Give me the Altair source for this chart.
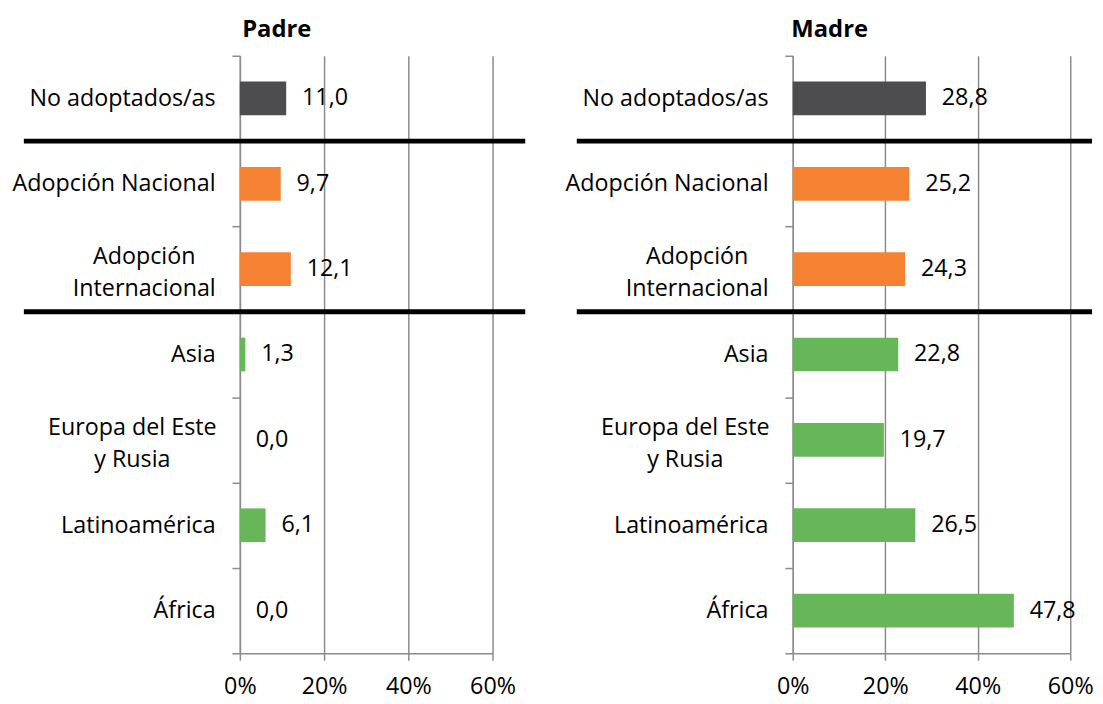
import altair as alt
import pandas as pd

categories = ["No adoptados/as", "Adopción Nacional", "Adopción Internacional",
              "Asia", "Europa del Este y Rusia", "Latinoamérica", "África"]
groups = ["No adoptados", "Adopción", "Adopción",
          "Origen", "Origen", "Origen", "Origen"]
padre = [11.0, 9.7, 12.1, 1.3, 0.0, 6.1, 0.0]
madre = [28.8, 25.2, 24.3, 22.8, 19.7, 26.5, 47.8]
separators = ["No adoptados/as", "Adopción Internacional"]
x_ticks = [0, 20, 40, 60]

group_names = ["No adoptados", "Adopción", "Origen"]
group_colors = ["#4D4D4F", "#F58232", "#68B65A"]

label_lines = {
    "Adopción Internacional": ["Adopción", "Internacional"],
    "Europa del Este y Rusia": ["Europa del Este", "y Rusia"],
}
label_expr = "".join(
    f"datum.label == '{k}' ? ['{v[0]}', '{v[1]}'] : " for k, v in label_lines.items()
) + "datum.label"
is_intl = "datum.label == 'Adopción Internacional'"
is_eur = "datum.label == 'Europa del Este y Rusia'"
is_multi = f"{is_intl} || {is_eur}"

FONT = "Open Sans"
FS = 23.5
GRID = "#8C8C8C"


def panel(title, values, width, right_ext, title_dx):
    df = pd.DataFrame({"cat": categories, "grp": groups, "val": values})
    sep = pd.DataFrame({"cat": separators})
    y = alt.Y("cat:N", sort=categories, title=None,
              scale=alt.Scale(paddingInner=0, paddingOuter=0),
              axis=alt.Axis(tickBand="extent", tickSize=8, tickColor=GRID, tickWidth=1.5,
                            domainColor=GRID, domainWidth=1.5,
                            labelPadding=alt.ConditionalAxisNumber(
                                condition=[{"test": is_intl, "value": 89},
                                           {"test": is_eur, "value": 101}],
                                value=17),
                            labelAlign=alt.ConditionalAxisLabelAlign(
                                condition={"test": is_multi, "value": "center"},
                                value="right"),
                            labelOffset=alt.ConditionalAxisNumber(
                                condition={"test": is_multi, "value": -12.5},
                                value=0),
                            labelFont=FONT, labelFontSize=FS, labelColor="#000",
                            labelLimit=300, labelExpr=label_expr, labelLineHeight=32,
                            grid=False))
    x = alt.X("val:Q", title=None,
              scale=alt.Scale(domain=[0, 60], nice=False),
              axis=alt.Axis(values=x_ticks, labelExpr="datum.value + '%'",
                            grid=True, gridColor=GRID, gridWidth=1.5,
                            domainColor=GRID, domainWidth=1.5,
                            tickColor=GRID, tickSize=7, tickWidth=1.5,
                            labelFont=FONT, labelFontSize=FS, labelColor="#000",
                            labelFlush=False, labelPadding=15))
    base = alt.Chart(df)
    bars = base.mark_bar(size=34).encode(
        y=y, x=x,
        color=alt.Color("grp:N", scale=alt.Scale(domain=group_names, range=group_colors),
                        legend=None),
    )
    text = base.transform_calculate(
        lbl="replace(format(datum.val, '.1f'), '.', ',')"
    ).mark_text(align="left", baseline="middle", dx=16, font=FONT, fontSize=FS,
                color="#000").encode(y=alt.Y("cat:N", sort=categories), x="val:Q",
                                     text="lbl:N")
    rules = alt.Chart(sep).mark_rule(color="#000", strokeWidth=5).encode(
        y=alt.Y("cat:N", sort=categories, bandPosition=1),
        x=alt.value(-218), x2=alt.value(width + right_ext),
    )
    return alt.layer(bars, text, rules).properties(
        width=width, height=603,
        title=alt.TitleParams(title, font=FONT, fontSize=24, fontWeight="bold",
                              color="#000", anchor="middle", frame="bounds",
                              dx=title_dx, offset=2),
    )


chart = alt.hconcat(
    panel("Padre", padre, 255, 33, 7),
    panel("Madre", madre, 280, 22, 0),
    spacing=36,
).properties(
    padding={"left": 3, "top": 7, "right": 0, "bottom": 0}
).configure_view(stroke=None)

chart.save("out.html", embed_options={"renderer": "svg", "actions": False})
